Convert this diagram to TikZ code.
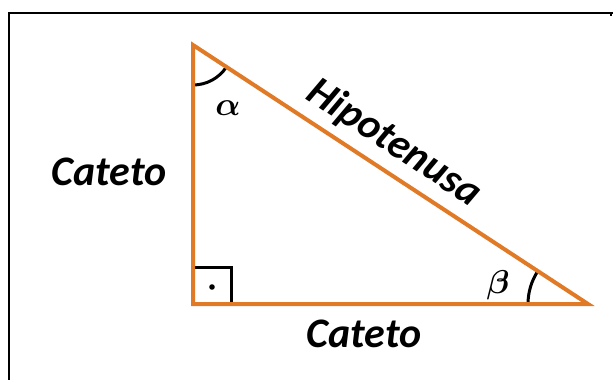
\documentclass[tikz,border=0pt]{standalone}
\usepackage{fix-cm}
\usepackage{fontspec}
\newfontfamily\catfont{Carlito}
\usepackage{xcolor}
\usetikzlibrary{positioning}
\definecolor{legorange}{RGB}{224,122,38}

\begin{document}
\begin{tikzpicture}[
  x=1pt,y=-1pt,
  leg/.style={draw=legorange,line width=4pt,line join=miter},
  anglemark/.style={draw=black,line width=3pt},
  lbl/.style={inner sep=0pt,font=\catfont\fontsize{42}{48}\selectfont\bfseries\itshape},
  ang/.style={inner sep=0pt,font=\boldmath\fontsize{33}{40}\selectfont}
]
\useasboundingbox (0,0) rectangle (613,380);
% frame
\draw[line width=2pt] (8.7,380) -- (8.7,13) -- (613,13);
\draw[line width=2pt] (610.5,13) -- (610.5,16);
% vertices
\coordinate (A) at (193,45);
\coordinate (B) at (193,304);
\coordinate (C) at (588,304);
% right angle mark
\draw[anglemark] ([yshift=37pt]B) -- ++(38,0) -- ++(0,37);
\fill ([shift={(19,-17)}]B) circle (2.8pt);
% angle arcs
\draw[anglemark] ([yshift=-40pt]A) arc[start angle=90,end angle=33.3,radius=40];
\draw[anglemark] ([xshift=-60pt]C) arc[start angle=180,end angle=213.3,radius=60];
% triangle
\draw[leg] (A) -- (B) -- (C) -- cycle;
% labels
\node[ang] (alpha) at (228,108) {$\alpha$};
\node[ang] (beta) at (498,285) {$\beta$};
\node[lbl,anchor=base] (catleft) at (109,185) {Cateto};
\node[lbl,anchor=base] (catbottom) at (364,347) {Cateto};
\path (A) -- (C) node[lbl,pos=0.47,sloped,above=10pt] (hip) {Hipotenusa};
\end{tikzpicture}
\end{document}
